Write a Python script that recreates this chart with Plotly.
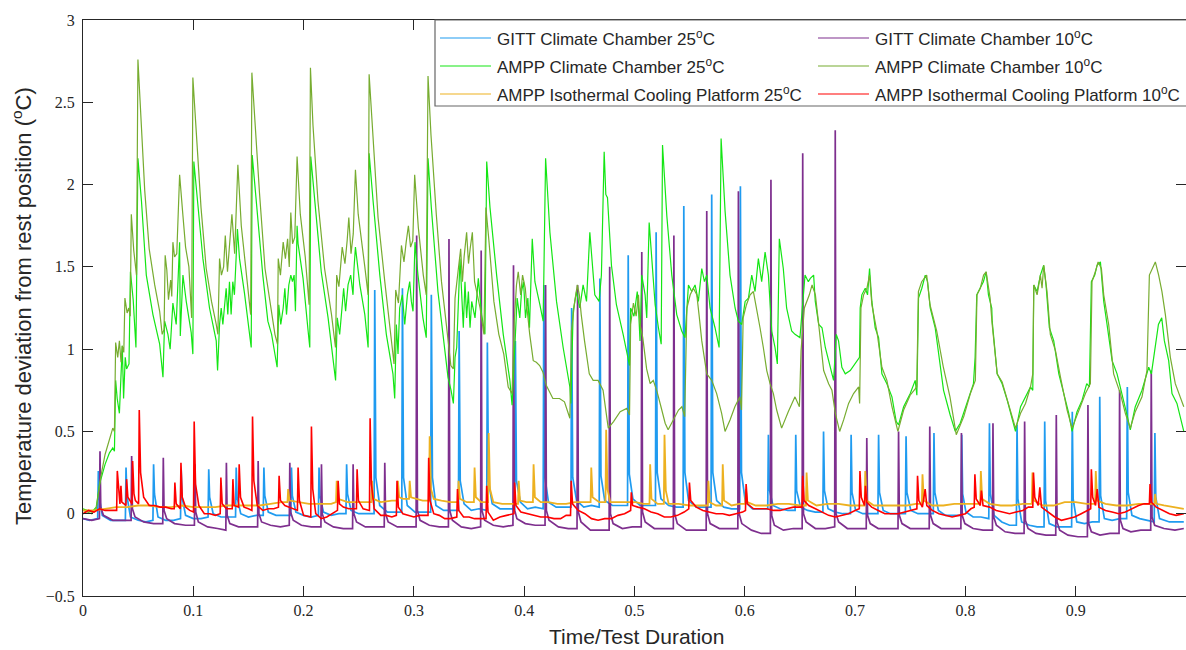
import plotly.graph_objects as go

# ---------------------------------------------------------------------------
# Temperature deviation traces, (time / test duration, deviation in degC)
# ---------------------------------------------------------------------------

gitt_25 = [
    (0.000, -0.03), (0.006, -0.04),
    (0.0133, -0.03), (0.0139, 0.26), (0.0147, 0.10), (0.0175, -0.01),
    (0.025, -0.04), (0.032, -0.04),
    (0.0384, -0.04), (0.039, 0.28), (0.0398, 0.11), (0.043, -0.02),
    (0.050, -0.04), (0.057, -0.05),
    (0.0634, -0.04), (0.064, 0.30), (0.0648, 0.12), (0.068, -0.02),
    (0.075, -0.04), (0.082, -0.04),
    (0.0884, -0.03), (0.089, 0.27), (0.0898, 0.10), (0.093, -0.01),
    (0.100, -0.03), (0.107, -0.03),
    (0.1134, -0.02), (0.114, 0.27), (0.1148, 0.10), (0.118, 0.00),
    (0.125, -0.02), (0.132, -0.02),
    (0.1383, -0.02), (0.1389, 0.28), (0.1397, 0.10), (0.143, 0.00),
    (0.150, -0.02), (0.157, -0.01),
    (0.1634, -0.01), (0.164, 0.28), (0.1648, 0.11), (0.168, 0.01),
    (0.175, -0.01), (0.182, -0.01),
    (0.1884, -0.01), (0.189, 0.28), (0.1898, 0.11), (0.193, 0.01),
    (0.200, -0.01), (0.207, -0.02),
    (0.2134, -0.01), (0.214, 0.28), (0.2148, 0.11), (0.218, 0.01),
    (0.225, -0.01), (0.232, 0.00),
    (0.2384, 0.00), (0.239, 0.30), (0.2398, 0.12), (0.243, 0.02),
    (0.250, 0.00), (0.257, 0.00),
    (0.2639, 0.00), (0.2645, 1.36), (0.2655, 0.22), (0.269, 0.05),
    (0.276, 0.01), (0.283, 0.01),
    (0.289, 0.01), (0.2896, 1.37), (0.2906, 0.22), (0.294, 0.05),
    (0.301, 0.01), (0.308, 0.01),
    (0.3152, 0.01), (0.3158, 1.33), (0.3168, 0.22), (0.320, 0.05),
    (0.327, 0.02), (0.334, 0.02),
    (0.3404, 0.02), (0.341, 1.11), (0.342, 0.20), (0.3455, 0.06),
    (0.352, 0.02), (0.359, 0.03),
    (0.366, 0.02), (0.3666, 1.04), (0.3676, 0.20), (0.371, 0.06),
    (0.378, 0.03), (0.385, 0.03),
    (0.3914, 0.03), (0.392, 1.05), (0.393, 0.20), (0.3965, 0.07),
    (0.403, 0.03), (0.410, 0.04),
    (0.4172, 0.03), (0.4178, 1.39), (0.4188, 0.22), (0.422, 0.07),
    (0.429, 0.04), (0.436, 0.04),
    (0.4424, 0.04), (0.443, 1.25), (0.444, 0.22), (0.4475, 0.08),
    (0.454, 0.04), (0.461, 0.05),
    (0.468, 0.04), (0.4686, 1.43), (0.4696, 0.23), (0.473, 0.08),
    (0.480, 0.05), (0.487, 0.05),
    (0.4937, 0.05), (0.4943, 1.57), (0.4953, 0.24), (0.4985, 0.09),
    (0.505, 0.05), (0.512, 0.05),
    (0.519, 0.05), (0.5196, 1.71), (0.5206, 0.25), (0.524, 0.09),
    (0.531, 0.05), (0.538, 0.04),
    (0.5441, 0.04), (0.5447, 1.87), (0.5457, 0.25), (0.549, 0.08),
    (0.556, 0.04), (0.563, 0.04),
    (0.5694, 0.04), (0.570, 1.94), (0.571, 0.25), (0.5745, 0.08),
    (0.581, 0.04), (0.588, 0.03),
    (0.5954, 0.03), (0.596, 1.99), (0.597, 0.25), (0.6005, 0.07),
    (0.607, 0.03), (0.614, 0.03),
    (0.6208, 0.03), (0.6214, 0.48), (0.6222, 0.15), (0.6255, 0.05),
    (0.632, 0.03), (0.639, 0.02),
    (0.6456, 0.02), (0.6462, 0.48), (0.647, 0.14), (0.6505, 0.04),
    (0.657, 0.02), (0.664, 0.01),
    (0.6708, 0.01), (0.6714, 0.50), (0.6722, 0.14), (0.6755, 0.03),
    (0.682, 0.01), (0.689, 0.00),
    (0.6958, 0.00), (0.6964, 0.48), (0.6972, 0.13), (0.7005, 0.02),
    (0.707, 0.00), (0.714, 0.00),
    (0.7207, 0.00), (0.7213, 0.48), (0.7221, 0.13), (0.7255, 0.02),
    (0.732, 0.00), (0.739, 0.00),
    (0.7456, 0.00), (0.7462, 0.47), (0.747, 0.13), (0.7505, 0.02),
    (0.757, 0.00), (0.764, 0.00),
    (0.7709, 0.00), (0.7715, 0.49), (0.7723, 0.13), (0.7755, 0.02),
    (0.782, -0.01), (0.789, -0.01),
    (0.7961, -0.01), (0.7967, 0.48), (0.7975, 0.12), (0.8005, 0.01),
    (0.807, -0.02), (0.814, -0.02),
    (0.8212, -0.03), (0.8218, 0.55), (0.8226, 0.12), (0.826, -0.01),
    (0.833, -0.05), (0.840, -0.07),
    (0.8462, -0.07), (0.8468, 0.54), (0.8476, 0.09), (0.851, -0.05),
    (0.858, -0.07), (0.865, -0.08),
    (0.8713, -0.08), (0.8719, 0.56), (0.8727, 0.08), (0.876, -0.06),
    (0.883, -0.08), (0.890, -0.08),
    (0.8963, -0.08), (0.8969, 0.62), (0.8977, 0.09), (0.901, -0.05),
    (0.908, -0.06), (0.915, -0.05),
    (0.9212, -0.05), (0.9218, 0.71), (0.9226, 0.11), (0.926, -0.03),
    (0.933, -0.04), (0.940, -0.03),
    (0.9462, -0.03), (0.9468, 0.77), (0.9476, 0.13), (0.951, -0.01),
    (0.958, -0.03), (0.965, -0.04),
    (0.9712, -0.05), (0.9718, 0.49), (0.9726, 0.10), (0.976, -0.03),
    (0.985, -0.05), (0.998, -0.05),
]

gitt_10 = [
    (0.000, -0.03), (0.008, -0.04),
    (0.0149, -0.03), (0.0154, 0.38), (0.0161, 0.04), (0.0185, -0.01),
    (0.027, -0.04), (0.036, -0.04),
    (0.0436, -0.04), (0.0441, 0.35), (0.0448, 0.03), (0.0472, -0.02),
    (0.055, -0.05), (0.064, -0.06),
    (0.0723, -0.06), (0.0728, 0.34), (0.0735, 0.02), (0.0759, -0.03),
    (0.083, -0.06), (0.093, -0.07),
    (0.101, -0.07), (0.1015, 0.30), (0.1022, 0.01), (0.1046, -0.05),
    (0.113, -0.08), (0.122, -0.09),
    (0.1295, -0.10), (0.130, 0.31), (0.1307, -0.01), (0.1331, -0.06),
    (0.141, -0.08), (0.150, -0.08),
    (0.1583, -0.08), (0.1588, 0.32), (0.1595, 0.00), (0.1619, -0.05),
    (0.170, -0.07), (0.179, -0.08),
    (0.187, -0.07), (0.1875, 0.31), (0.1882, 0.01), (0.1906, -0.04),
    (0.198, -0.07), (0.207, -0.08),
    (0.2157, -0.08), (0.2162, 0.30), (0.2169, 0.00), (0.2193, -0.05),
    (0.227, -0.08), (0.236, -0.09),
    (0.2444, -0.09), (0.2449, 0.30), (0.2456, 0.00), (0.248, -0.05),
    (0.256, -0.08), (0.265, -0.08),
    (0.2731, -0.08), (0.2736, 0.31), (0.2743, 0.00), (0.2767, -0.05),
    (0.285, -0.08), (0.294, -0.08),
    (0.302, -0.08), (0.3025, 1.69), (0.3032, 0.02), (0.3056, -0.04),
    (0.314, -0.07), (0.323, -0.08),
    (0.3313, -0.08), (0.3318, 1.67), (0.3325, 0.02), (0.3349, -0.04),
    (0.343, -0.08), (0.352, -0.09),
    (0.3605, -0.08), (0.361, 1.60), (0.3617, 0.02), (0.3641, -0.04),
    (0.372, -0.07), (0.381, -0.08),
    (0.3898, -0.07), (0.3903, 1.51), (0.391, 0.03), (0.3934, -0.03),
    (0.401, -0.06), (0.410, -0.07),
    (0.4189, -0.07), (0.4194, 1.39), (0.4201, 0.02), (0.4225, -0.04),
    (0.431, -0.08), (0.440, -0.09),
    (0.4479, -0.09), (0.4484, 1.39), (0.4491, 0.01), (0.4515, -0.05),
    (0.460, -0.10), (0.469, -0.10),
    (0.477, -0.10), (0.4775, 1.50), (0.4782, 0.00), (0.4806, -0.06),
    (0.489, -0.09), (0.498, -0.08),
    (0.5061, -0.08), (0.5066, 1.59), (0.5073, 0.01), (0.5097, -0.05),
    (0.518, -0.09), (0.527, -0.09),
    (0.5352, -0.09), (0.5357, 1.69), (0.5364, 0.00), (0.5388, -0.06),
    (0.547, -0.10), (0.556, -0.10),
    (0.565, -0.10), (0.5655, 1.84), (0.5662, 0.00), (0.5686, -0.06),
    (0.577, -0.09), (0.586, -0.09),
    (0.5937, -0.09), (0.5942, 1.96), (0.5949, 0.00), (0.5973, -0.06),
    (0.606, -0.10), (0.615, -0.12),
    (0.6232, -0.12), (0.6237, 2.03), (0.6244, -0.01), (0.6268, -0.07),
    (0.635, -0.10), (0.644, -0.09),
    (0.652, -0.09), (0.6525, 2.19), (0.6532, 0.00), (0.6556, -0.05),
    (0.664, -0.09), (0.673, -0.09),
    (0.6815, -0.08), (0.682, 2.33), (0.6827, 0.00), (0.6851, -0.05),
    (0.693, -0.09), (0.702, -0.09),
    (0.7101, -0.09), (0.7106, 0.46), (0.7113, -0.01), (0.7137, -0.06),
    (0.721, -0.09), (0.730, -0.09),
    (0.7389, -0.09), (0.7394, 0.50), (0.7401, -0.01), (0.7425, -0.06),
    (0.750, -0.09), (0.759, -0.09),
    (0.7672, -0.09), (0.7677, 0.53), (0.7684, -0.01), (0.7708, -0.06),
    (0.778, -0.09), (0.787, -0.09),
    (0.7959, -0.09), (0.7964, 0.49), (0.7971, -0.01), (0.7995, -0.06),
    (0.807, -0.09), (0.816, -0.10),
    (0.8245, -0.10), (0.825, 0.55), (0.8257, -0.02), (0.8281, -0.07),
    (0.836, -0.11), (0.845, -0.12),
    (0.8532, -0.12), (0.8537, 0.56), (0.8544, -0.04), (0.8568, -0.09),
    (0.864, -0.12), (0.873, -0.13),
    (0.8819, -0.13), (0.8824, 0.60), (0.8831, -0.05), (0.8855, -0.10),
    (0.893, -0.13), (0.902, -0.14),
    (0.9106, -0.14), (0.9111, 0.66), (0.9118, -0.06), (0.9142, -0.11),
    (0.922, -0.13), (0.931, -0.12),
    (0.9393, -0.12), (0.9398, 0.75), (0.9405, -0.04), (0.9429, -0.09),
    (0.950, -0.11), (0.959, -0.10),
    (0.968, -0.10), (0.9685, 0.87), (0.9692, -0.02), (0.9716, -0.07),
    (0.980, -0.09), (0.990, -0.10), (0.998, -0.09),
]

ampp_cc_25 = [
    (0.000, 0.03), (0.008, 0.01), (0.012, 0.04), (0.015, 0.18), (0.020, 0.30),
    (0.024, 0.37), (0.027, 0.40), (0.0285, 0.38), (0.0296, 0.81), (0.031, 0.70),
    (0.033, 0.61), (0.0345, 0.80), (0.0356, 1.02), (0.0368, 0.70), (0.0383, 0.95),
    (0.0395, 0.88), (0.0417, 0.91), (0.043, 1.47), (0.0455, 1.30), (0.048, 1.01),
    (0.0498, 2.16), (0.053, 1.90), (0.0574, 1.45), (0.0634, 1.21), (0.0695, 1.03),
    (0.0725, 0.83), (0.074, 1.17), (0.077, 1.09), (0.079, 1.00), (0.0815, 1.28),
    (0.0845, 1.15), (0.0876, 1.65), (0.0882, 1.08), (0.0906, 1.45), (0.0936, 1.29),
    (0.0981, 1.10), (0.0996, 0.97), (0.1005, 2.14), (0.1042, 1.87), (0.1087, 1.55),
    (0.1147, 1.25), (0.1208, 1.05), (0.122, 0.87), (0.1238, 1.15), (0.1253, 1.25),
    (0.1268, 1.15), (0.1298, 1.37), (0.1313, 1.21), (0.1328, 1.41), (0.1343, 1.21),
    (0.1358, 1.41), (0.1373, 1.33), (0.140, 1.73), (0.1419, 1.55), (0.1464, 1.34),
    (0.151, 1.10), (0.1525, 1.01), (0.1534, 2.18), (0.157, 1.92), (0.163, 1.45),
    (0.1676, 1.17), (0.171, 1.09), (0.176, 0.89), (0.1775, 1.27), (0.1793, 1.15),
    (0.1815, 1.25), (0.183, 1.37), (0.1845, 1.21), (0.1866, 1.39), (0.1884, 1.45),
    (0.1899, 1.41), (0.1914, 1.45), (0.1926, 1.23), (0.1941, 1.75), (0.195, 1.64),
    (0.1995, 1.43), (0.2041, 1.11), (0.2056, 1.01), (0.2065, 2.17), (0.2101, 1.90),
    (0.216, 1.47), (0.2222, 1.19), (0.2267, 0.95), (0.229, 0.81), (0.2305, 1.19),
    (0.2327, 1.09), (0.2348, 1.25), (0.2363, 1.37), (0.2381, 1.23), (0.2403, 1.39),
    (0.2427, 1.45), (0.2448, 1.33), (0.2457, 1.49), (0.247, 1.62), (0.251, 1.39),
    (0.2555, 1.21), (0.2585, 1.01), (0.2594, 2.19), (0.263, 1.90), (0.2691, 1.45),
    (0.275, 1.09), (0.281, 0.85), (0.2826, 0.70), (0.2841, 1.15), (0.2856, 0.97),
    (0.2871, 1.25), (0.2895, 1.33), (0.2917, 1.15), (0.2941, 1.33), (0.2962, 1.41),
    (0.2977, 1.29), (0.2992, 1.23), (0.301, 1.65), (0.3037, 1.45), (0.3082, 1.19),
    (0.3112, 1.07), (0.3128, 2.16), (0.3158, 1.86), (0.3218, 1.35), (0.3279, 0.99),
    (0.3309, 0.83), (0.3337, 0.75), (0.3358, 0.67), (0.3373, 0.95), (0.3388, 1.01),
    (0.3418, 1.55), (0.3433, 1.37), (0.3448, 1.13), (0.3463, 1.41), (0.3478, 1.19),
    (0.3494, 1.35), (0.3509, 1.13), (0.3524, 1.29), (0.3554, 1.19), (0.3584, 1.43),
    (0.3614, 1.21), (0.3644, 1.09), (0.366, 2.14), (0.369, 1.86), (0.375, 1.45),
    (0.381, 1.09), (0.387, 0.81), (0.389, 0.66), (0.3915, 1.03), (0.3936, 1.31),
    (0.396, 1.19), (0.3976, 1.35), (0.3994, 1.41), (0.4012, 1.19), (0.4033, 1.31),
    (0.4048, 1.13), (0.4073, 1.67), (0.4097, 1.41), (0.4142, 1.27), (0.4172, 1.17),
    (0.4194, 2.16), (0.4233, 1.71), (0.4293, 1.29), (0.4353, 1.01), (0.4414, 0.77),
    (0.4423, 0.67), (0.4444, 1.23), (0.4474, 1.35), (0.4504, 1.25), (0.4534, 1.39),
    (0.4565, 1.29), (0.4595, 1.71), (0.464, 1.33), (0.4679, 1.29), (0.470, 1.45),
    (0.4725, 2.20), (0.474, 1.94), (0.4755, 1.92), (0.4791, 1.51), (0.4836, 1.27),
    (0.4897, 1.09), (0.4943, 0.95), (0.4955, 0.90), (0.4965, 1.25), (0.4995, 1.20),
    (0.5025, 1.35), (0.5036, 1.25), (0.505, 1.05), (0.5066, 1.45), (0.5096, 1.33),
    (0.5111, 1.19), (0.5133, 1.77), (0.5157, 1.55), (0.5187, 1.27), (0.5217, 1.13),
    (0.5242, 1.03), (0.5254, 2.24), (0.5293, 1.81), (0.5338, 1.45), (0.5383, 1.21),
    (0.5428, 1.11), (0.5458, 1.07), (0.5489, 1.39), (0.5519, 1.35), (0.5549, 1.39),
    (0.5579, 1.29), (0.561, 1.49), (0.5634, 1.41), (0.5655, 1.45), (0.5685, 1.25),
    (0.573, 1.13), (0.5767, 1.01), (0.5785, 2.28), (0.5821, 1.84), (0.5866, 1.45),
    (0.5912, 1.25), (0.5942, 1.17), (0.5972, 1.15), (0.6003, 1.29), (0.6033, 1.31),
    (0.6063, 1.45), (0.6093, 1.35), (0.6123, 1.55), (0.6153, 1.41), (0.6184, 1.59),
    (0.6214, 1.45), (0.6244, 1.11), (0.6274, 1.01), (0.6295, 0.91), (0.6313, 1.67),
    (0.6349, 1.49), (0.6379, 1.25), (0.6425, 1.11), (0.6455, 1.09), (0.650, 1.07),
    (0.6515, 1.21), (0.6546, 1.45), (0.6576, 1.41), (0.6594, 1.43), (0.6624, 1.45),
    (0.6639, 1.29), (0.667, 1.15), (0.670, 1.13), (0.673, 1.01), (0.676, 0.93),
    (0.679, 0.85), (0.6805, 0.81), (0.6829, 1.09), (0.685, 1.05), (0.688, 0.89),
    (0.6911, 0.85), (0.6956, 0.87), (0.7016, 0.93), (0.704, 0.95), (0.7046, 1.25),
    (0.7061, 1.33), (0.7092, 1.37), (0.7113, 1.33), (0.7131, 1.49), (0.7152, 1.29),
    (0.7182, 1.13), (0.7213, 1.07), (0.7243, 0.85), (0.7288, 0.79), (0.7334, 0.71),
    (0.7373, 0.56), (0.7394, 0.54), (0.744, 0.65), (0.750, 0.73), (0.7545, 0.81),
    (0.756, 0.72), (0.7575, 1.31), (0.7605, 1.37), (0.7636, 1.45), (0.7657, 1.41),
    (0.7681, 1.25), (0.7726, 1.13), (0.7757, 0.97), (0.7802, 0.75), (0.7862, 0.60),
    (0.7908, 0.50), (0.7953, 0.55), (0.8013, 0.67), (0.8073, 0.79), (0.8088, 0.95),
    (0.8103, 1.33), (0.8133, 1.37), (0.8163, 1.41), (0.8188, 1.47), (0.8209, 1.33),
    (0.8239, 1.25), (0.8243, 1.17), (0.8288, 0.85), (0.8333, 0.79), (0.8379, 0.69),
    (0.8424, 0.58), (0.8454, 0.50), (0.850, 0.65), (0.8545, 0.71), (0.859, 0.77),
    (0.8611, 0.75), (0.862, 1.39), (0.865, 1.35), (0.868, 1.45), (0.871, 1.51),
    (0.8731, 1.39), (0.8761, 1.13), (0.8801, 1.05), (0.8847, 0.85), (0.8892, 0.73),
    (0.8937, 0.61), (0.8967, 0.50), (0.9012, 0.62), (0.9058, 0.69), (0.910, 0.79),
    (0.9124, 0.77), (0.9142, 1.41), (0.9173, 1.45), (0.9194, 1.51), (0.9224, 1.53),
    (0.9254, 1.29), (0.9284, 1.15), (0.933, 0.93), (0.9375, 0.85), (0.942, 0.73),
    (0.9465, 0.60), (0.9495, 0.51), (0.954, 0.65), (0.9601, 0.75), (0.9647, 0.85),
    (0.9662, 0.89), (0.9686, 0.85), (0.9722, 1.01), (0.975, 1.15), (0.978, 1.19),
    (0.9804, 1.05), (0.9843, 0.93), (0.9873, 0.73), (0.9918, 0.67), (0.9948, 0.59),
    (0.998, 0.50),
]

ampp_cc_10 = [
    (0.000, 0.02), (0.008, 0.00), (0.012, 0.03), (0.016, 0.22), (0.020, 0.36),
    (0.024, 0.46), (0.027, 0.52), (0.0285, 0.50), (0.0296, 1.04), (0.0315, 0.95),
    (0.033, 1.05), (0.0345, 0.92), (0.0356, 1.02), (0.037, 0.98), (0.038, 1.31),
    (0.040, 1.22), (0.0415, 1.25), (0.0428, 1.20), (0.0438, 1.82), (0.046, 1.60),
    (0.0485, 1.45), (0.0498, 2.76), (0.053, 2.38), (0.056, 1.96), (0.060, 1.61),
    (0.065, 1.39), (0.0695, 1.23), (0.0718, 1.09), (0.0735, 1.12), (0.0745, 1.57),
    (0.076, 1.48), (0.0775, 1.30), (0.0795, 1.42), (0.0805, 1.32), (0.0815, 1.65),
    (0.083, 1.56), (0.085, 1.58), (0.0876, 2.06), (0.0905, 1.82), (0.093, 1.62),
    (0.096, 1.50), (0.0985, 1.19), (0.0996, 2.65), (0.1027, 2.32), (0.107, 1.86),
    (0.1117, 1.49), (0.1165, 1.29), (0.1208, 1.15), (0.1223, 1.09), (0.1238, 1.55),
    (0.1255, 1.45), (0.1275, 1.50), (0.129, 1.69), (0.131, 1.47), (0.133, 1.62),
    (0.135, 1.82), (0.1375, 1.58), (0.1404, 2.12), (0.1435, 1.75), (0.148, 1.48),
    (0.152, 1.21), (0.1531, 2.68), (0.156, 2.35), (0.160, 1.95), (0.165, 1.49),
    (0.1695, 1.30), (0.174, 1.09), (0.1763, 1.03), (0.177, 1.55), (0.179, 1.45),
    (0.1815, 1.65), (0.1835, 1.55), (0.1855, 1.67), (0.187, 1.50), (0.1884, 1.83),
    (0.190, 1.64), (0.192, 1.68), (0.1941, 2.17), (0.197, 1.82), (0.2015, 1.56),
    (0.205, 1.27), (0.2062, 2.71), (0.2085, 2.36), (0.213, 1.90), (0.219, 1.49),
    (0.2253, 1.21), (0.2289, 1.01), (0.230, 1.45), (0.232, 1.38), (0.235, 1.62),
    (0.2375, 1.52), (0.2395, 1.66), (0.241, 1.80), (0.243, 1.58), (0.245, 1.70),
    (0.247, 2.09), (0.2495, 1.82), (0.2555, 1.50), (0.2585, 1.33), (0.2594, 2.67),
    (0.263, 2.30), (0.2675, 1.80), (0.2736, 1.41), (0.278, 1.15), (0.282, 0.91),
    (0.2835, 1.36), (0.286, 1.28), (0.2887, 1.63), (0.291, 1.53), (0.293, 1.65),
    (0.295, 1.75), (0.297, 1.62), (0.299, 1.66), (0.3007, 2.06), (0.304, 1.74),
    (0.3085, 1.45), (0.3112, 1.33), (0.3128, 2.66), (0.3155, 2.30), (0.3203, 1.82),
    (0.325, 1.41), (0.3294, 1.15), (0.3315, 1.02), (0.3335, 0.90), (0.3357, 0.88),
    (0.3373, 1.31), (0.340, 1.47), (0.3424, 1.61), (0.344, 1.41), (0.3455, 1.56),
    (0.3478, 1.71), (0.3495, 1.52), (0.351, 1.61), (0.353, 1.71), (0.355, 1.41),
    (0.3575, 1.33), (0.360, 1.25), (0.3635, 1.09), (0.3653, 1.86), (0.368, 1.66),
    (0.3725, 1.29), (0.377, 1.09), (0.3815, 0.97), (0.3855, 0.77), (0.389, 0.73),
    (0.391, 1.17), (0.393, 1.39), (0.3946, 1.47), (0.3968, 1.33), (0.3985, 1.45),
    (0.401, 1.37), (0.4025, 1.25), (0.405, 1.09), (0.4082, 0.93), (0.411, 0.92),
    (0.414, 0.90), (0.417, 0.86), (0.420, 0.78), (0.4233, 0.73), (0.426, 0.70),
    (0.432, 0.70), (0.4365, 0.68), (0.4414, 0.58), (0.4428, 1.11), (0.4458, 1.29),
    (0.4482, 1.39), (0.450, 1.33), (0.4517, 1.21), (0.4547, 1.05), (0.459, 0.85),
    (0.4625, 0.81), (0.467, 0.81), (0.4715, 0.75), (0.4762, 0.52), (0.481, 0.56),
    (0.487, 0.62), (0.493, 0.64), (0.4955, 0.60), (0.4965, 1.15), (0.499, 1.28),
    (0.5015, 1.20), (0.5036, 1.33), (0.505, 1.15), (0.5075, 1.07), (0.511, 0.88),
    (0.5142, 0.79), (0.517, 0.81), (0.5205, 0.74), (0.524, 0.65), (0.5278, 0.55),
    (0.5305, 0.51), (0.535, 0.57), (0.5399, 0.63), (0.543, 0.65), (0.5455, 0.59),
    (0.5475, 1.25), (0.5505, 1.33), (0.5534, 1.37), (0.5565, 1.33), (0.5585, 1.21),
    (0.561, 1.05), (0.5655, 0.85), (0.570, 0.81), (0.5745, 0.73), (0.579, 0.61),
    (0.5821, 0.50), (0.5866, 0.57), (0.591, 0.65), (0.5955, 0.71), (0.597, 0.63),
    (0.5985, 1.19), (0.6015, 1.27), (0.6048, 1.33), (0.6078, 1.35), (0.6108, 1.25),
    (0.6138, 1.13), (0.6168, 1.01), (0.6199, 0.87), (0.6229, 0.79), (0.6259, 0.73),
    (0.6289, 0.63), (0.6334, 0.52), (0.6394, 0.62), (0.6455, 0.71), (0.6495, 0.65),
    (0.651, 0.99), (0.654, 1.25), (0.6585, 1.33), (0.661, 1.39), (0.664, 1.33),
    (0.667, 1.15), (0.6715, 0.87), (0.676, 0.79), (0.679, 0.75), (0.6821, 0.61),
    (0.686, 0.50), (0.6896, 0.57), (0.6941, 0.67), (0.6986, 0.73), (0.7032, 0.77),
    (0.7041, 0.67), (0.7053, 1.25), (0.7077, 1.33), (0.7107, 1.37), (0.7131, 1.45),
    (0.7152, 1.27), (0.7197, 1.11), (0.7243, 0.89), (0.7288, 0.81), (0.7334, 0.65),
    (0.7388, 0.50), (0.744, 0.63), (0.7499, 0.72), (0.7559, 0.77), (0.7574, 1.35),
    (0.7604, 1.41), (0.7649, 1.45), (0.7679, 1.27), (0.774, 1.11), (0.780, 0.89),
    (0.786, 0.71), (0.7917, 0.48), (0.7985, 0.59), (0.8045, 0.73), (0.809, 0.81),
    (0.8105, 1.33), (0.8135, 1.37), (0.8165, 1.45), (0.8188, 1.47), (0.8224, 1.31),
    (0.8243, 1.15), (0.8288, 0.85), (0.8333, 0.80), (0.8379, 0.69), (0.8424, 0.58),
    (0.8454, 0.52), (0.850, 0.61), (0.8545, 0.67), (0.859, 0.77), (0.8611, 0.85),
    (0.862, 1.39), (0.865, 1.33), (0.868, 1.45), (0.8695, 1.37), (0.871, 1.51),
    (0.874, 1.35), (0.877, 1.09), (0.8817, 0.99), (0.8862, 0.83), (0.8922, 0.63),
    (0.8967, 0.52), (0.9028, 0.63), (0.9088, 0.73), (0.9133, 0.79), (0.9148, 1.41),
    (0.9178, 1.47), (0.9203, 1.53), (0.9233, 1.49), (0.9254, 1.33), (0.9299, 1.15),
    (0.9344, 0.85), (0.9405, 0.73), (0.945, 0.61), (0.9495, 0.52), (0.954, 0.62),
    (0.9601, 0.71), (0.9646, 0.87), (0.9668, 1.45), (0.9692, 1.49), (0.9722, 1.53),
    (0.9752, 1.45), (0.9782, 1.35), (0.9813, 1.21), (0.9858, 0.95), (0.9903, 0.79),
    (0.9948, 0.71), (0.998, 0.65),
]

ampp_icp_25 = [
    (0.000, 0.02), (0.010, 0.02), (0.020, 0.03), (0.030, 0.04), (0.040, 0.04),
    (0.050, 0.05), (0.060, 0.05), (0.070, 0.04), (0.080, 0.04), (0.090, 0.05),
    (0.100, 0.04), (0.110, 0.04), (0.120, 0.04), (0.130, 0.05), (0.140, 0.05),
    (0.150, 0.05), (0.160, 0.05), (0.170, 0.06), (0.180, 0.07),
    (0.1854, 0.07), (0.186, 0.15), (0.1872, 0.08),
    (0.195, 0.07), (0.205, 0.06), (0.215, 0.06), (0.225, 0.06),
    (0.2294, 0.07), (0.230, 0.20), (0.2312, 0.09),
    (0.240, 0.07), (0.250, 0.07),
    (0.2614, 0.07), (0.262, 0.20), (0.2632, 0.09),
    (0.270, 0.07), (0.280, 0.08),
    (0.2849, 0.08), (0.2855, 0.20), (0.2867, 0.10), (0.290, 0.09),
    (0.2956, 0.09), (0.2962, 0.20), (0.2974, 0.10),
    (0.302, 0.09), (0.308, 0.08),
    (0.3137, 0.08), (0.3143, 0.47), (0.3155, 0.15), (0.318, 0.09),
    (0.325, 0.08), (0.333, 0.07),
    (0.3399, 0.07), (0.3405, 0.20), (0.3417, 0.09), (0.348, 0.07),
    (0.3544, 0.07), (0.355, 0.28), (0.3562, 0.10), (0.361, 0.07),
    (0.3672, 0.07), (0.3678, 0.49), (0.369, 0.15), (0.372, 0.07),
    (0.380, 0.06), (0.388, 0.06),
    (0.3944, 0.06), (0.395, 0.20), (0.3962, 0.08), (0.402, 0.07),
    (0.4079, 0.07), (0.4085, 0.30), (0.4097, 0.10),
    (0.415, 0.07), (0.422, 0.07), (0.430, 0.06), (0.438, 0.06), (0.446, 0.07),
    (0.453, 0.07),
    (0.4602, 0.07), (0.4608, 0.28), (0.462, 0.10), (0.468, 0.07),
    (0.4737, 0.07), (0.4743, 0.51), (0.4755, 0.15), (0.478, 0.07),
    (0.486, 0.07), (0.494, 0.07), (0.501, 0.07), (0.508, 0.06),
    (0.5136, 0.06), (0.5142, 0.30), (0.5154, 0.09), (0.521, 0.06),
    (0.5266, 0.06), (0.5272, 0.48), (0.5284, 0.14), (0.531, 0.06),
    (0.540, 0.06), (0.550, 0.05), (0.558, 0.05),
    (0.5664, 0.05), (0.567, 0.20), (0.5682, 0.07), (0.574, 0.05),
    (0.5794, 0.05), (0.580, 0.30), (0.5812, 0.08),
    (0.588, 0.05), (0.595, 0.06),
    (0.6004, 0.06), (0.601, 0.15), (0.6022, 0.07),
    (0.610, 0.05), (0.620, 0.05), (0.630, 0.06), (0.640, 0.06), (0.650, 0.05),
    (0.6554, 0.05), (0.656, 0.25), (0.6572, 0.08),
    (0.665, 0.05), (0.675, 0.06), (0.685, 0.06), (0.695, 0.05), (0.703, 0.05),
    (0.7086, 0.05), (0.7092, 0.26), (0.7104, 0.08),
    (0.717, 0.05), (0.727, 0.05), (0.737, 0.05), (0.747, 0.05), (0.755, 0.06),
    (0.7605, 0.06), (0.7611, 0.24), (0.7623, 0.08),
    (0.770, 0.05), (0.780, 0.05), (0.790, 0.06), (0.800, 0.06), (0.808, 0.06),
    (0.8134, 0.06), (0.814, 0.26), (0.8152, 0.09),
    (0.822, 0.06), (0.832, 0.05), (0.842, 0.05), (0.852, 0.06),
    (0.8602, 0.06), (0.8608, 0.25), (0.862, 0.08),
    (0.870, 0.05), (0.880, 0.05), (0.890, 0.07), (0.900, 0.07), (0.910, 0.06),
    (0.9176, 0.06), (0.9182, 0.26), (0.9194, 0.08),
    (0.927, 0.06), (0.937, 0.05), (0.947, 0.05), (0.957, 0.06), (0.967, 0.06),
    (0.9714, 0.06), (0.972, 0.12), (0.9732, 0.06),
    (0.980, 0.05), (0.990, 0.04), (0.998, 0.03),
]

ampp_icp_10 = [
    (0.000, 0.00), (0.005, 0.02), (0.010, 0.01), (0.015, 0.03), (0.020, 0.02),
    (0.025, 0.02),
    (0.0305, 0.02), (0.0311, 0.26), (0.0323, 0.12), (0.0335, 0.06),
    (0.0344, 0.17), (0.0352, 0.07),
    (0.0389, 0.05), (0.0395, 0.21), (0.0407, 0.10),
    (0.0444, 0.06), (0.045, 0.32), (0.0462, 0.12), (0.0475, 0.08),
    (0.0504, 0.06), (0.051, 0.63), (0.0522, 0.25), (0.055, 0.10), (0.060, 0.05),
    (0.065, 0.05), (0.070, 0.04), (0.075, 0.04), (0.080, 0.03),
    (0.0827, 0.03), (0.0833, 0.19), (0.0845, 0.06),
    (0.0882, 0.03), (0.0888, 0.31), (0.090, 0.10), (0.093, 0.04),
    (0.0968, 0.02),
    (0.1002, 0.01), (0.1008, 0.56), (0.102, 0.18), (0.105, 0.05),
    (0.110, 0.00), (0.115, 0.00), (0.120, -0.01),
    (0.1244, 0.00), (0.125, 0.22), (0.1262, 0.06),
    (0.130, 0.03),
    (0.1353, 0.03), (0.1359, 0.21), (0.137, 0.05),
    (0.141, 0.04), (0.1416, 0.30), (0.1428, 0.10), (0.146, 0.04),
    (0.150, 0.03),
    (0.1531, 0.02), (0.1537, 0.59), (0.1549, 0.20), (0.158, 0.05),
    (0.163, 0.02), (0.168, 0.03), (0.173, 0.03),
    (0.1772, 0.04), (0.1778, 0.23), (0.179, 0.08),
    (0.183, 0.05), (0.187, 0.04), (0.190, 0.03),
    (0.1944, 0.02), (0.195, 0.28), (0.1962, 0.08),
    (0.200, -0.01),
    (0.2065, -0.02), (0.2071, 0.53), (0.2083, 0.15), (0.211, 0.00),
    (0.216, -0.03), (0.221, -0.02), (0.226, 0.00),
    (0.2307, 0.02), (0.2313, 0.20), (0.2325, 0.06),
    (0.236, 0.04), (0.241, 0.03),
    (0.2479, 0.03), (0.2485, 0.27), (0.2497, 0.08),
    (0.254, 0.03),
    (0.2597, 0.02), (0.2603, 0.58), (0.2615, 0.18), (0.264, 0.03),
    (0.270, -0.01), (0.275, -0.01), (0.280, -0.02),
    (0.2841, -0.01), (0.2847, 0.20), (0.2859, 0.04),
    (0.290, 0.00), (0.295, -0.01), (0.300, -0.02), (0.305, -0.01),
    (0.3128, -0.01), (0.3134, 0.34), (0.3146, 0.08), (0.318, 0.00),
    (0.323, -0.01), (0.328, -0.03), (0.333, -0.03),
    (0.3389, -0.02), (0.3395, 0.15), (0.3407, 0.02),
    (0.345, -0.02), (0.350, -0.02), (0.355, -0.03), (0.360, -0.03),
    (0.3654, -0.03), (0.366, 0.17), (0.3672, 0.01),
    (0.372, -0.04), (0.378, -0.02), (0.384, -0.01),
    (0.3907, 0.00), (0.3913, 0.19), (0.3925, 0.05),
    (0.397, 0.01), (0.403, 0.00), (0.409, -0.01), (0.415, -0.02), (0.421, -0.02),
    (0.427, -0.03), (0.433, -0.03), (0.438, -0.01),
    (0.442, -0.01), (0.4426, 0.20), (0.4438, 0.06),
    (0.449, 0.02), (0.455, 0.00), (0.461, -0.03), (0.467, -0.04), (0.473, -0.03),
    (0.479, -0.03), (0.485, -0.01), (0.491, 0.00),
    (0.4965, 0.02), (0.4971, 0.13), (0.4983, 0.05),
    (0.503, 0.04), (0.509, 0.03), (0.515, 0.01), (0.521, 0.00), (0.527, -0.02),
    (0.533, -0.02), (0.539, -0.01), (0.545, 0.01),
    (0.5492, 0.03), (0.5498, 0.19), (0.551, 0.08),
    (0.556, 0.04), (0.562, 0.02), (0.568, 0.01), (0.574, 0.00), (0.580, 0.00),
    (0.586, -0.01), (0.592, 0.00), (0.598, 0.01),
    (0.6006, 0.02), (0.6012, 0.18), (0.6024, 0.06),
    (0.608, 0.03), (0.614, 0.03), (0.620, 0.03), (0.626, 0.02), (0.632, 0.02),
    (0.638, 0.03), (0.644, 0.04),
    (0.6519, 0.04), (0.6525, 0.23), (0.6537, 0.08),
    (0.658, 0.05), (0.664, 0.03), (0.670, 0.01), (0.676, -0.01), (0.682, -0.02),
    (0.688, -0.01), (0.694, 0.00), (0.700, 0.02),
    (0.7038, 0.03), (0.7044, 0.26), (0.7056, 0.10),
    (0.7085, 0.05), (0.7094, 0.17), (0.7106, 0.07),
    (0.715, 0.04), (0.721, 0.02), (0.727, 0.00), (0.733, 0.00), (0.739, 0.00),
    (0.745, 0.01), (0.751, 0.02),
    (0.756, 0.03), (0.7566, 0.23), (0.7578, 0.08),
    (0.761, 0.04), (0.7635, 0.15), (0.765, 0.05),
    (0.770, 0.02), (0.776, 0.00), (0.782, -0.01), (0.788, -0.02), (0.794, -0.01),
    (0.800, 0.00), (0.805, 0.03),
    (0.808, 0.04), (0.8086, 0.24), (0.8098, 0.09),
    (0.8135, 0.05), (0.8145, 0.14), (0.816, 0.05),
    (0.822, 0.04), (0.828, 0.02), (0.834, 0.01), (0.840, 0.00), (0.846, 0.01),
    (0.852, 0.02), (0.857, 0.04),
    (0.8611, 0.04), (0.8617, 0.25), (0.8629, 0.10),
    (0.866, 0.05), (0.8675, 0.16), (0.869, 0.04),
    (0.875, 0.01), (0.881, -0.02), (0.887, -0.04), (0.893, -0.03), (0.899, -0.02),
    (0.905, 0.00), (0.910, 0.02),
    (0.9136, 0.03), (0.9142, 0.27), (0.9154, 0.10),
    (0.918, 0.05), (0.9195, 0.15), (0.921, 0.04),
    (0.927, 0.02), (0.933, 0.01), (0.939, 0.00), (0.945, 0.01), (0.951, 0.03),
    (0.957, 0.05), (0.962, 0.06),
    (0.9668, 0.06), (0.9674, 0.18), (0.9686, 0.07),
    (0.973, 0.04), (0.979, 0.02), (0.985, 0.00), (0.991, -0.01), (0.998, 0.00),
]

# Series names, colours and line widths, in plotting order
series_names = [
    "GITT Climate Chamber 25<sup>o</sup>C",
    "GITT Climate Chamber 10<sup>o</sup>C",
    "AMPP Climate Chamber 25<sup>o</sup>C",
    "AMPP Climate Chamber 10<sup>o</sup>C",
    "AMPP Isothermal Cooling Platform 25<sup>o</sup>C",
    "AMPP Isothermal Cooling Platform 10<sup>o</sup>C",
]
series_data = [gitt_25, gitt_10, ampp_cc_25, ampp_cc_10, ampp_icp_25, ampp_icp_10]
series_colors = ["#1F9BF0", "#7E2F8E", "#14E614", "#77AC30", "#EDB120", "#FF0000"]
series_widths = [1.7, 1.7, 1.2, 1.2, 1.8, 1.6]

x_ticks = [0, 0.1, 0.2, 0.3, 0.4, 0.5, 0.6, 0.7, 0.8, 0.9]
y_ticks = [-0.5, 0, 0.5, 1, 1.5, 2, 2.5, 3]

W, H = 1186, 650
M_L, M_R, M_T, M_B = 83, 0, 20, 54
PW, PH = W - M_L - M_R, H - M_T - M_B

fig = go.Figure()
for name, data, color, width in zip(series_names, series_data, series_colors, series_widths):
    t, v = zip(*data)
    fig.add_trace(go.Scatter(
        x=list(t), y=list(v), mode="lines", name=name,
        line=dict(color=color, width=width), showlegend=False,
    ))

axis_common = dict(
    showline=True, linecolor="#262626", linewidth=1, mirror="ticks",
    ticks="inside", ticklen=10, tickwidth=1, tickcolor="#262626",
    showgrid=False, zeroline=False,
    tickfont=dict(family="Liberation Serif, DejaVu Serif, serif", size=16,
                  color="#262626"),
)

fig.update_xaxes(range=[0, 1.0], tickvals=x_ticks,
                 ticktext=[("%g" % t) for t in x_ticks], **axis_common)
fig.update_yaxes(range=[-0.5, 3.0], tickvals=y_ticks,
                 ticktext=[("%g" % t).replace("-", "\u2212") for t in y_ticks],
                 ticklabelstandoff=4, **axis_common)


def px_x(p):
    return (p - M_L) / PW


def px_y(p):
    return (H - M_B - p) / PH


annotations = [
    dict(text="Time/Test Duration", x=px_x(636), y=px_y(636),
         xref="paper", yref="paper", showarrow=False,
         xanchor="center", yanchor="middle",
         font=dict(family="Liberation Sans", size=21, color="#262626")),
    dict(text="Temperature deviation from rest position (<sup>o</sup>C)",
         x=px_x(22), y=px_y(306), textangle=-90,
         xref="paper", yref="paper", showarrow=False,
         xanchor="center", yanchor="middle",
         font=dict(family="Liberation Sans", size=22, color="#262626")),
]

# Legend box drawn in two columns
shapes = [dict(type="rect", xref="paper", yref="paper",
               x0=px_x(435), x1=px_x(1190), y0=px_y(106), y1=px_y(20),
               line=dict(color="#666666", width=1.2), fillcolor="white",
               layer="above")]
legend_rows = [38, 66, 94]
legend_cols = [(440, 491, 495), (818, 869, 873)]
for i, (name, color) in enumerate(zip(series_names, series_colors)):
    row, col = divmod(i, 2)
    lx0, lx1, tx = legend_cols[col]
    yy = px_y(legend_rows[row])
    shapes.append(dict(type="line", xref="paper", yref="paper",
                       x0=px_x(lx0), x1=px_x(lx1), y0=yy, y1=yy,
                       line=dict(color=color, width=1.2), layer="above"))
    annotations.append(dict(text=name, x=px_x(tx), y=yy,
                            xref="paper", yref="paper", showarrow=False,
                            xanchor="left", yanchor="middle",
                            font=dict(family="Liberation Sans", size=17, color="#262626")))

fig.update_layout(
    width=W, height=H,
    margin=dict(l=M_L, r=M_R, t=M_T, b=M_B, pad=0),
    paper_bgcolor="white", plot_bgcolor="white",
    showlegend=False,
    shapes=shapes, annotations=annotations,
)

fig.write_html("out.html", config={"displayModeBar": False})
